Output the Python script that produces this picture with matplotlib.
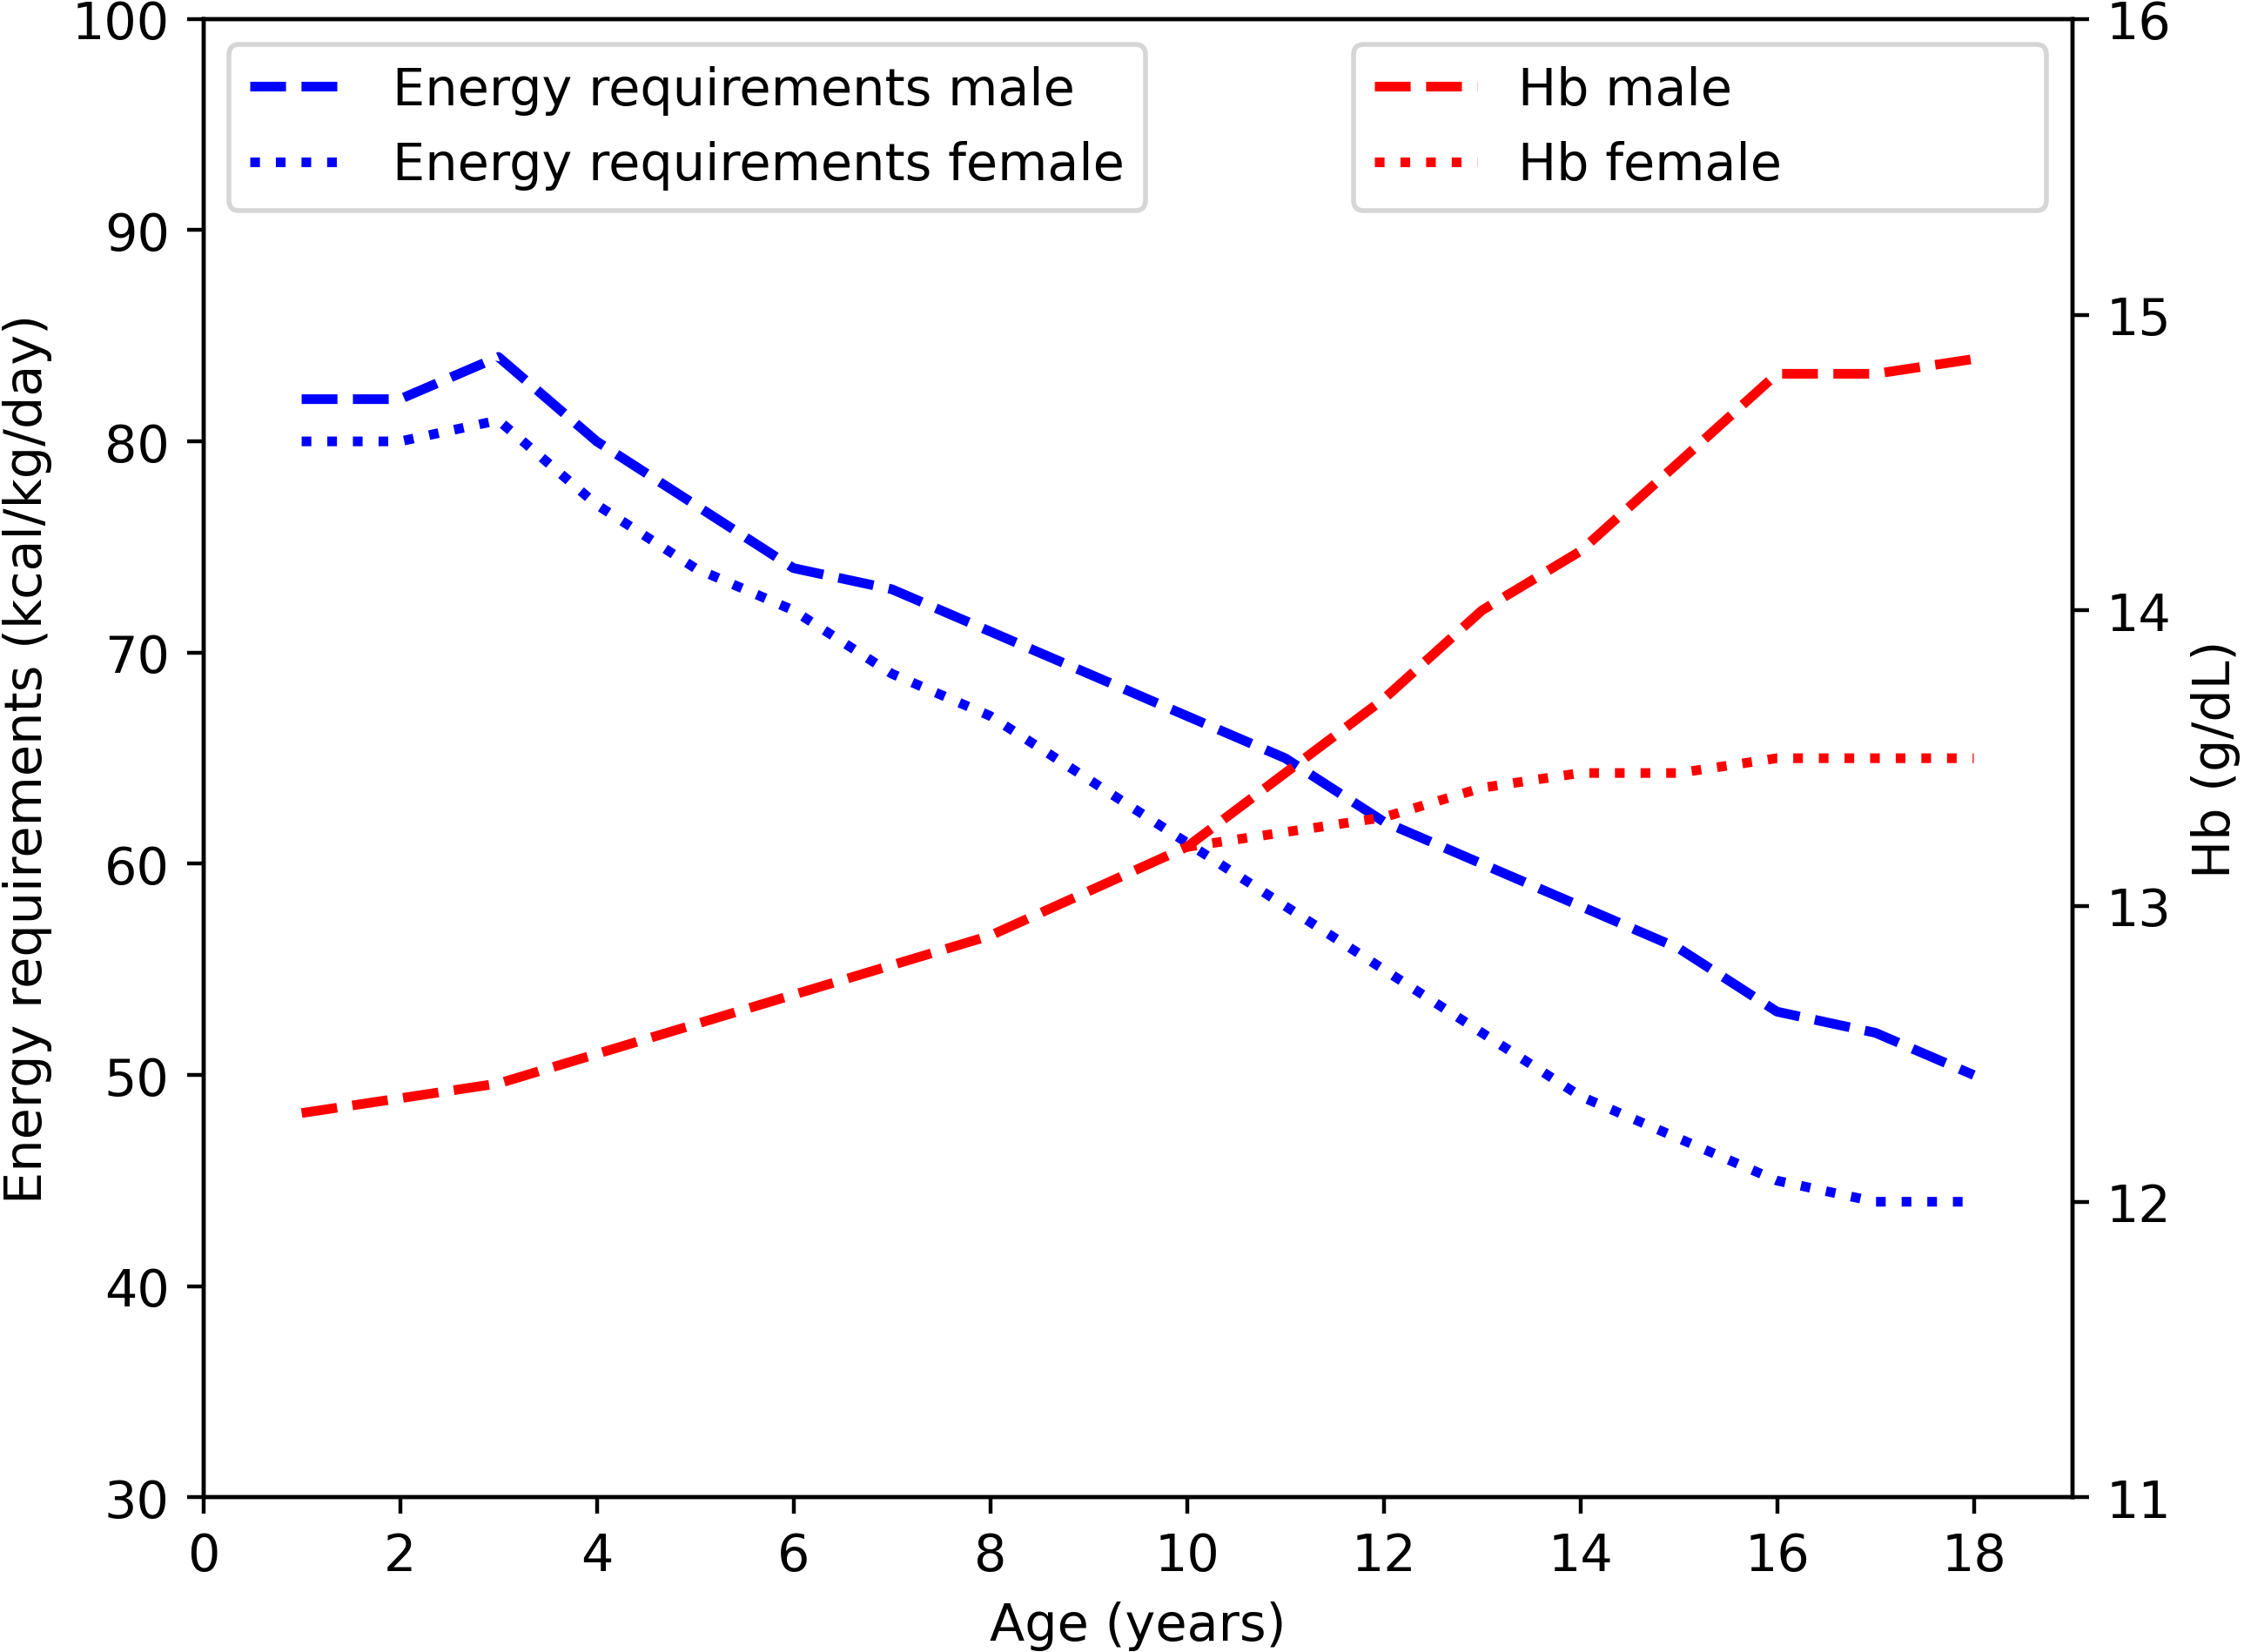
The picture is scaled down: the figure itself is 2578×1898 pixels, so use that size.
import matplotlib.pyplot as plt

plt.rcParams["font.size"] = 10.6

ages = [1, 2, 3, 4, 5, 6, 7, 8, 9, 10, 11, 12, 13, 14, 15, 16, 17, 18]
energy_male = [82, 82, 84, 80, 77, 74, 73, 71, 69, 67, 65, 62, 60, 58, 56, 53, 52, 50]
energy_female = [80, 80, 81, 77, 74, 72, 69, 67, 64, 61, 58, 55, 52, 49, 47, 45, 44, 44]
hb_male = [12.3, 12.35, 12.4, 12.5, 12.6, 12.7, 12.8, 12.9, 13.05, 13.2,
           13.45, 13.7, 14.0, 14.2, 14.5, 14.8, 14.8, 14.85]
ages_hb_female = [10, 11, 12, 13, 14, 15, 16, 17, 18]
hb_female = [13.2, 13.25, 13.3, 13.4, 13.45, 13.45, 13.5, 13.5, 13.5]

fig = plt.figure(figsize=(2578 / 400, 1899 / 400), dpi=400)
rect = [0.0906, 0.0935, 0.9234 - 0.0906, 0.988 - 0.0935]
ax = fig.add_axes(rect)
ax.plot(ages, energy_male, "b--", lw=2, label="Energy requirements male")
ax.plot(ages, energy_female, "b:", lw=2, label="Energy requirements female")
ax.set_xlim(0, 19)
ax.set_ylim(30, 100)
ax.set_xticks(range(0, 19, 2))
ax.set_xlabel("Age (years)")
ax.set_ylabel("Energy requirements (kcal/kg/day)")
ax.legend(loc="upper left")

ax2 = ax.twinx()
ax2.set_position(rect)
ax2.plot(ages, hb_male, "r--", lw=2, label="Hb male")
ax2.plot(ages_hb_female, hb_female, "r:", lw=2, label="Hb female")
ax2.set_ylim(11, 16)
ax2.set_ylabel("Hb (g/dL)")
ax2.legend(loc="upper right", mode="expand", bbox_to_anchor=(0.602, 0, 0.398, 1))

fig.savefig("out.png", dpi=400)
